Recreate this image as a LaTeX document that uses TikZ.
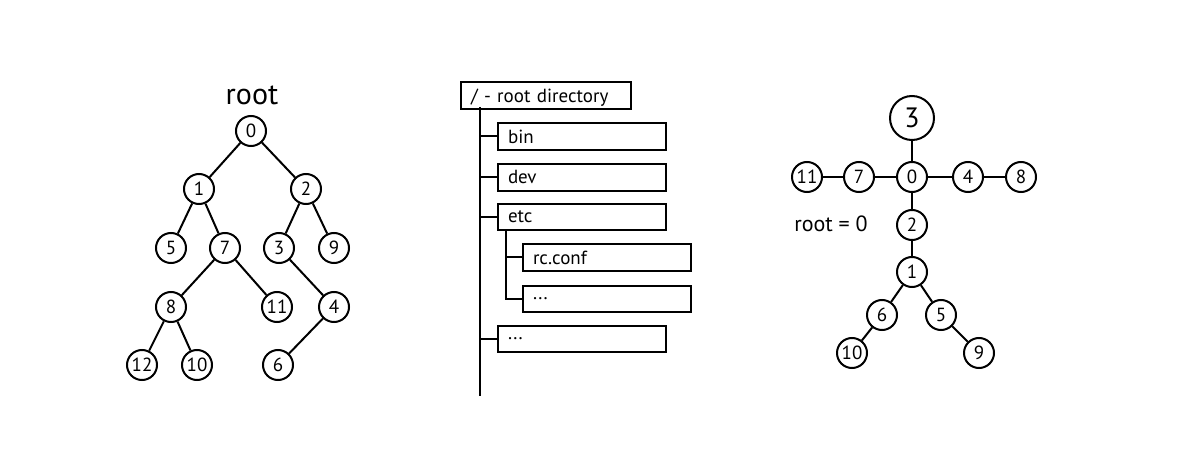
\documentclass[tikz,border=0pt]{standalone}
\usepackage{fontspec}
\setmainfont{PT Sans}
\usepackage{tikz}

\tikzset{
  vertex/.style={draw, circle, line width=1pt, minimum size=15pt, inner sep=0pt, font=\fontsize{9.5}{10}\selectfont},
  bigvertex/.style={vertex, minimum size=22pt, font=\fontsize{14}{15}\selectfont},
  dirbox/.style={draw, line width=1pt, anchor=north west, minimum height=13pt, inner xsep=5pt, text width=#1, text depth=0pt, font=\fontsize{9.5}{10}\selectfont, align=left},
  dirbox/.default=74pt,
  link/.style={line width=1pt}
}

\begin{document}
\begin{tikzpicture}[x=0.5pt, y=-0.5pt]
  \useasboundingbox (0,0) rectangle (1200,476);
  % binary tree
  \node[font=\fontsize{15}{16}\selectfont] (title) at (252,95) {root};
  \node[vertex] (t0) at (251,131) {0};
  \node[vertex] (t1) at (199,189) {1};
  \node[vertex] (t2) at (306,189) {2};
  \node[vertex] (t5) at (171,248) {5};
  \node[vertex] (t7) at (225,248) {7};
  \node[vertex] (t3) at (279,248) {3};
  \node[vertex] (t9) at (334,248) {9};
  \node[vertex] (t8) at (171,307) {8};
  \node[vertex] (t11) at (277,307) {11};
  \node[vertex] (t4) at (334,307) {4};
  \node[vertex] (t12) at (142,365) {12};
  \node[vertex] (t10) at (197,365) {10};
  \node[vertex] (t6) at (278,365) {6};
  % edges
  \draw[link] (t0) -- (t1);
  \draw[link] (t0) -- (t2);
  \draw[link] (t1) -- (t5);
  \draw[link] (t1) -- (t7);
  \draw[link] (t2) -- (t3);
  \draw[link] (t2) -- (t9);
  \draw[link] (t7) -- (t8);
  \draw[link] (t7) -- (t11);
  \draw[link] (t3) -- (t4);
  \draw[link] (t8) -- (t12);
  \draw[link] (t8) -- (t10);
  \draw[link] (t4) -- (t6);

  % directory tree
  \node[dirbox=75pt] (rootdir) at (460,81) {/ - root directory};
  \node[dirbox] (bin) at (497,122) {bin};
  \node[dirbox] (dev) at (497,163) {dev};
  \node[dirbox] (etc) at (497,203) {etc};
  \node[dirbox] (rcconf) at (522,243) {rc.conf};
  \node[dirbox] (etcmore) at (522,285) {...};
  \node[dirbox] (more) at (497,325) {...};
  \coordinate (trunk) at (480,107);
  \coordinate (trunkend) at (480,396);
  \coordinate (branch) at (506,229);
  \draw[link] (trunk) -- (trunkend);
  \draw[link] (trunk |- bin.west) -- (bin.west);
  \draw[link] (trunk |- dev.west) -- (dev.west);
  \draw[link] (trunk |- etc.west) -- (etc.west);
  \draw[link] (trunk |- more.west) -- (more.west);
  \draw[link] (branch) |- (etcmore.west);
  \draw[link] (branch |- rcconf.west) -- (rcconf.west);

  % rooted at 0
  \node[bigvertex] (g3) at (912,118) {3};
  \node[vertex] (g0) at (912,177) {0};
  \node[vertex] (g7) at (859,177) {7};
  \node[vertex] (g11) at (807,177) {11};
  \node[vertex] (g4) at (968,177) {4};
  \node[vertex] (g8) at (1021,177) {8};
  \node[vertex] (g2) at (912,225) {2};
  \node[vertex] (g1) at (912,272) {1};
  \node[vertex] (g6) at (882,315) {6};
  \node[vertex] (g5) at (941,315) {5};
  \node[vertex] (g10) at (852,353) {10};
  \node[vertex] (g9) at (979,353) {9};
  \node[font=\fontsize{11}{12}\selectfont] (rootlabel) at (831,224) {root = 0};
  % edges
  \draw[link] (g3) -- (g0);
  \draw[link] (g0) -- (g7);
  \draw[link] (g7) -- (g11);
  \draw[link] (g0) -- (g4);
  \draw[link] (g4) -- (g8);
  \draw[link] (g0) -- (g2);
  \draw[link] (g2) -- (g1);
  \draw[link] (g1) -- (g6);
  \draw[link] (g1) -- (g5);
  \draw[link] (g6) -- (g10);
  \draw[link] (g5) -- (g9);
\end{tikzpicture}
\end{document}
